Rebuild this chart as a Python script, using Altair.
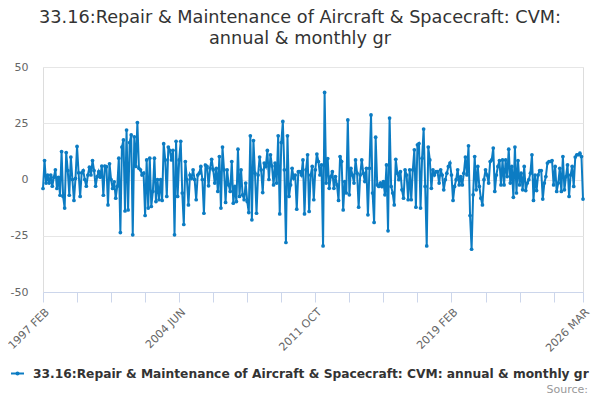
import altair as alt
import pandas as pd

# ---------------- data ----------------
START_YEAR = 1997
START_MONTH = 2  # FEB
MONTHS = ["JAN", "FEB", "MAR", "APR", "MAY", "JUN",
          "JUL", "AUG", "SEP", "OCT", "NOV", "DEC"]

growth = [
    -4, 8.4, -1.6, 2, -1.6, 2, -3, 1, 4.3, -4,
    1, -7, 12.4, -7.5, -12.7, 12, 4, -7, 10, 0,
    -9.3, 0.5, 14.7, 3, -7.5, 3, 4, 0, -3, 2,
    5.5, 2, 8.4, 4, -3, 1.3, 3.5, 1, 6, -7,
    6, 5.7, -11.3, 7, 0, -4, -1, -8.3, -3, 9.5,
    -23.6, 14.4, 17.6, -14, 22, -13.5, 16.4, 19.8, -24.6, 19,
    5.8, 25.3, 5, 4.3, 2, 2.8, -16, 8.7, -12.7, 9.5,
    -12, -5.3, 9.5, -9.8, 0, -9, 0, -9.3, 15.9, 8.7,
    -7.5, 14.4, 13, 8.7, 13, -24.6, 17, -7.5, 8.7, 17,
    -6, -20, 8, 0, -11.3, 2, 0.6, 4.3, 0, -9,
    2, 2.8, 5.8, 0, -15, 6.4, 5.8, -2.8, 5, 9,
    4.3, -1.6, 5, -5.3, 10.2, -12.7, 14.4, 4.3, -10.2, 4.3,
    -2.4, -5.3, 8, -10.5, -3.1, -9.8, 13.5, -7.5, 4.3, -6.8,
    -9, -1.6, -9.8, -14.7, 19.4, -17.9, 17.3, 2.8, -15, 2,
    10, 4.3, -5.8, 7.3, 5.8, 12.9, 0, 11, 6, -2.4,
    7.3, -1.6, 19.4, -15.3, 16.4, 25.8, 4.3, -28, 19.4, -7.5,
    -2.4, 5, 0.6, 2, -13.2, 3.5, 3.5, 2, 8.7, -15.3,
    4.3, 11, -14.2, 2, 5.8, -9, 4.3, 11.3, 8, 2,
    6.5, -29.5, 38.7, -1.6, 9.3, -3.9, 1.3, 3.5, -3.9, 1.3,
    -2.4, -9.3, 10.2, 8, -13.5, -0.9, -6, 26.5, -6.8, 5,
    2, -1.6, 8.7, 2.8, -12.3, 2, 8.7, 2.8, -0.9, 5,
    -15.7, 5, 28.7, -6, -19.1, 18.8, -2.4, -3.1, -1.6, -3.1,
    -0.9, -6.8, 6.5, -22.8, 27.3, -3.1, -6, -11.3, 9, 2.8,
    -0.1, 3.5, -4.6, -8.3, 4.3, 2, -9, 4.3, -9, 4.3,
    13.2, -12.3, 15.4, 16, -12.7, 9.5, 22.4, -3.1, -29.5, 14.4,
    8.7, -3.9, 4.3, 2, 3.5, 3.5, -1.6, 4.3, 2, -4.6,
    -0.1, 2.8, 5.8, 7.3, 2, -9.3, -3.1, -0.1, 4.3, -2.4,
    1.3, -2.4, 2.8, 10, 2, 15, -16, -31, -6.8, 10.2,
    -4.6, 5.8, -3.1, -8.3, -11.3, -0.1, 4.3, 2, -1.6, 8,
    8.7, 14, -5.3, 2, 5.8, 8.4, -2.4, 8.7, -2.4, 8.7,
    1.3, 13.5, -1.6, 5.8, -7.9, 14.4, -6, 8.4, -2.4, 2.8,
    -4.6, 5.8, -4.9, -1.6, -0.1, 2.8, 11, -9.3, 2, -4.9,
    2, 4, 4, -8.7, -1.6, 1.3, 7.3, 8, 8, 8.4,
    -2.4, 5.8, -5.3, -1.6, 5, -5.3, 10.2, -4.6, 1.3, 6.5,
    -7.5, 2, 5.8, -3.1, 10, 11, 11, 11.7, 10.2, -8.7,
]
assert len(growth) == 350, f"growth has {len(growth)} values"

tick_idx = [0, 22, 44, 66, 88, 110, 132, 154, 176, 198, 220, 242,
            264, 286, 308, 330, 349]
label_idx = [0, 88, 176, 264, 349]
y_ticks = [-50, -25, 0, 25, 50]

series_name = "33.16:Repair & Maintenance of Aircraft & Spacecraft: CVM: annual & monthly gr"
title_lines = ["33.16:Repair & Maintenance of Aircraft & Spacecraft: CVM:",
               "annual & monthly gr"]
source_text = "Source:"

# month labels for each observation
period_labels = []
for i in range(len(growth)):
    m = START_MONTH - 1 + i
    period_labels.append(f"{START_YEAR + m // 12} {MONTHS[m % 12]}")

df = pd.DataFrame({"idx": list(range(len(growth))),
                   "period": period_labels,
                   "value": growth})

label_expr = ""
for k in label_idx:
    label_expr += f"datum.value == {k} ? '{period_labels[k]}' : "
label_expr += "''"

# ---------------- style ----------------
FONT = "DejaVu Sans"
LINE = "#0c7cc3"
AXIS_LINE = "#ccd6eb"
GRID = "#e6e6e6"

x = alt.X("idx:Q",
          scale=alt.Scale(domain=[0, len(growth) - 1], nice=False, zero=False),
          axis=alt.Axis(values=tick_idx, labelExpr=label_expr, title=None,
                        grid=False, labelAngle=-45, labelFontSize=11,
                        labelColor="#666666", labelFont=FONT,
                        domainColor=AXIS_LINE, tickColor=AXIS_LINE,
                        tickSize=10, labelOverlap=False, labelFlush=False,
                        labelPadding=4))
y = alt.Y("value:Q",
          scale=alt.Scale(domain=[-50, 50], nice=False),
          axis=alt.Axis(values=y_ticks, title=None, domain=False, ticks=False,
                        tickSize=0, labelPadding=15, labelFontSize=11,
                        labelColor="#666666", labelFont=FONT,
                        labelExpr="datum.value < 0 ? '-' + abs(datum.value) : '' + datum.value",
                        gridColor=GRID, gridWidth=1))

series = alt.Chart(df).mark_line(
    color=LINE, strokeWidth=2,
    point=alt.OverlayMarkDef(filled=True, size=14, color=LINE)
).encode(x=x, y=y, tooltip=["period:N", "value:Q"])

one = pd.DataFrame({"k": [0]})

title1 = alt.Chart(one).mark_text(
    font=FONT, fontSize=17.7, color="#333333", align="center", baseline="middle"
).encode(x=alt.value(257), y=alt.value(-49), text=alt.value(title_lines[0]))
title2 = alt.Chart(one).mark_text(
    font=FONT, fontSize=17.7, color="#333333", align="center", baseline="middle"
).encode(x=alt.value(257), y=alt.value(-28), text=alt.value(title_lines[1]))

leg_line = alt.Chart(one).mark_rule(color=LINE, strokeWidth=2).encode(
    x=alt.value(-32), x2=alt.value(-19), y=alt.value(306.5))
leg_dot = alt.Chart(one).mark_point(filled=True, size=16, color=LINE, opacity=1).encode(
    x=alt.value(-25.5), y=alt.value(306.5))
leg_text = alt.Chart(one).mark_text(
    font=FONT, fontSize=12.25, fontWeight="bold", color="#333333",
    align="left", baseline="middle"
).encode(x=alt.value(-10), y=alt.value(306.5), text=alt.value(series_name))

source = alt.Chart(one).mark_text(
    font=FONT, fontSize=11, color="#999999", align="right", baseline="middle"
).encode(x=alt.value(545), y=alt.value(323), text=alt.value(source_text))

chart = alt.layer(
    series, title1, title2, leg_line, leg_dot, leg_text, source
).properties(
    width=540, height=225,
    autosize=alt.AutoSizeParams(type="none"),
    padding={"left": 35, "top": 59, "right": 9, "bottom": 104},
).configure_view(stroke=None).configure(background="white")

chart.save("out.html", embed_options={"renderer": "svg", "actions": False})
